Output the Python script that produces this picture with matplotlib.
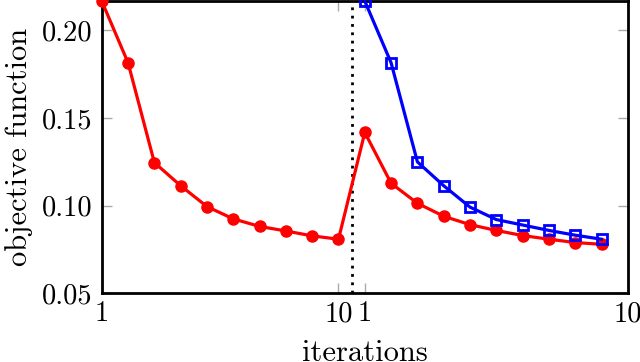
import matplotlib
matplotlib.use('Agg')
import matplotlib.pyplot as plt

plt.rcParams['font.family'] = ['cmr10', 'DejaVu Serif']
plt.rcParams['mathtext.fontset'] = 'cm'
plt.rcParams['axes.formatter.use_mathtext'] = True

# first run (iterations 1..10) and restart (positions 11..20)
x_first = [1, 2, 3, 4, 5, 6, 7, 8, 9, 10]
x_second = [11, 12, 13, 14, 15, 16, 17, 18, 19, 20]
red_first = [0.2166, 0.1814, 0.1245, 0.1113, 0.0994, 0.0924, 0.0881, 0.0855, 0.0827, 0.0808]
red_second = [0.1417, 0.1127, 0.1013, 0.0939, 0.0891, 0.0858, 0.0829, 0.0808, 0.0789, 0.0779]
blue_second = [0.2166, 0.1814, 0.1249, 0.1113, 0.0991, 0.0920, 0.0889, 0.0858, 0.0831, 0.0808]
tick_pos = [1, 10, 11, 21]
tick_labels = ['1', '10', '1', '10']
y_ticks = [0.05, 0.10, 0.15, 0.20]

fig = plt.figure(figsize=(6.4, 3.62), dpi=100)
ax = fig.add_axes([0.159, 0.19, 0.822, 0.807])

ax.axvline(10.5, color='black', linestyle=(0, (1, 2)), linewidth=2, zorder=1)

ax.plot(x_first + x_second, red_first + red_second, color='red', linewidth=2.3,
        marker='o', markersize=8, zorder=3, clip_on=False)
ax.plot(x_second, blue_second, color='blue', linewidth=2.3, marker='s', markersize=7,
        markerfacecolor='none', markeredgewidth=2, zorder=4, clip_on=False)

ax.set_xlim(1, 21)
ax.set_ylim(0.05, 0.2166)
ax.set_xticks(tick_pos)
ax.set_xticklabels(tick_labels)
ax.set_yticks(y_ticks)
ax.set_yticklabels(['%.2f' % v for v in y_ticks])
ax.tick_params(direction='in', length=7, width=1, color='#aaaaaa', labelsize=20.5,
               top=True, right=True)
ax.tick_params(axis='x', pad=5.5)
ax.tick_params(axis='y', pad=7)
for s in ax.spines.values():
    s.set_linewidth(2)

ax.set_xlabel('iterations', fontsize=22, labelpad=9)
ax.set_ylabel('objective function', fontsize=22, labelpad=6)

plt.savefig('out.png', dpi=100)
